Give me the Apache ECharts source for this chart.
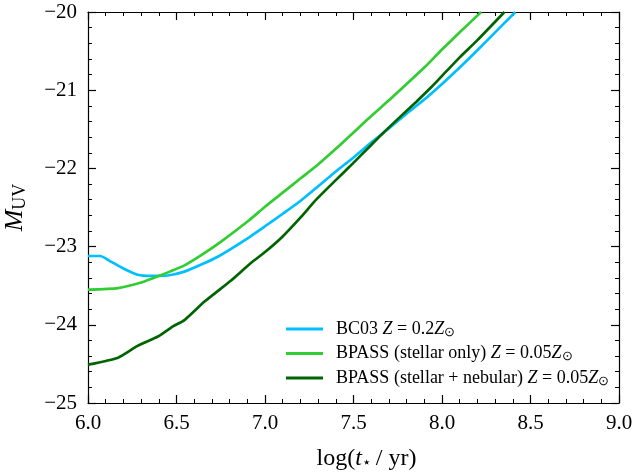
<!DOCTYPE html>
<html>
<head>
<meta charset="utf-8">
<script src="https://cdn.jsdelivr.net/npm/echarts@6/dist/echarts.min.js"></script>
<style>
  html, body { margin: 0; padding: 0; background: #fff; }
  #chart { width: 634px; height: 472px; }
</style>
</head>
<body>
<div id="chart"></div>
<script>
// values, [log(t/yr), M_UV]
const bc03 = [
  [6.0, -23.12], [6.07, -23.12], [6.12, -23.18], [6.2, -23.28], [6.28, -23.36],
  [6.36, -23.375], [6.45, -23.37], [6.545, -23.32], [6.64, -23.23], [6.733, -23.13],
  [6.884, -22.92], [7.0, -22.74], [7.1, -22.58], [7.198, -22.42], [7.289, -22.25],
  [7.4, -22.04], [7.5, -21.86], [7.6, -21.67], [7.7, -21.49], [7.8, -21.30],
  [7.9, -21.12], [8.0, -20.92], [8.1, -20.71], [8.2, -20.49], [8.3, -20.26], [8.415, -20.0]
];
const bpassStellar = [
  [6.0, -23.55], [6.17, -23.53], [6.30, -23.46], [6.395, -23.38], [6.545, -23.24],
  [6.64, -23.11], [6.75, -22.94], [6.912, -22.66], [7.0, -22.49], [7.1, -22.31],
  [7.2, -22.13], [7.3, -21.95], [7.4, -21.75], [7.5, -21.54], [7.6, -21.33],
  [7.7, -21.13], [7.8, -20.92], [7.9, -20.71], [8.0, -20.48], [8.1, -20.26], [8.221, -20.0]
];
const bpassNebular = [
  [6.0, -24.51], [6.17, -24.42], [6.28, -24.27], [6.395, -24.15], [6.48, -24.02],
  [6.545, -23.94], [6.66, -23.70], [6.81, -23.43], [6.92, -23.21], [7.0, -23.07],
  [7.1, -22.87], [7.2, -22.63], [7.289, -22.40], [7.4, -22.15], [7.477, -21.98],
  [7.6, -21.70], [7.666, -21.55], [7.75, -21.37], [7.854, -21.15], [7.94, -20.96],
  [8.024, -20.76], [8.1, -20.58], [8.2, -20.36], [8.353, -20.0]
];
const seriesNames = ['BC03', 'BPASS (stellar only)', 'BPASS (stellar + nebular)'];
const seriesZ = ['0.2', '0.05', '0.05'];
const colors = ['#00bfff', '#32cd32', '#006400'];

const font = 'Liberation Serif';
const minus = s => String(s).replace('-', '\u2212');

const tickStyle = () => ({
  axisLine: { show: true, onZero: false, lineStyle: { color: '#000', width: 1.2 } },
  axisTick: { show: true, inside: true, length: 8, lineStyle: { color: '#000', width: 1.2 } },
  minorTick: { show: true, splitNumber: 5, length: 4, lineStyle: { color: '#000', width: 1 } },
  splitLine: { show: false },
  axisLabel: { show: false }
});

const chart = echarts.init(document.getElementById('chart'));
const legendRich = {
  n: { fontFamily: font, fontSize: 18, color: '#000' },
  i: { fontFamily: font, fontSize: 18, fontStyle: 'italic', color: '#000' },
  s: { fontFamily: font, fontSize: 13, color: '#000', verticalAlign: 'bottom', padding: [7, 0, 0, 0] }
};

chart.setOption({
  animation: false,
  color: colors,
  grid: { left: 88, right: 15, top: 12, bottom: 69, containLabel: false, outerBoundsMode: 'none' },
  legend: {
    orient: 'vertical',
    left: 286,
    top: 319,
    padding: 0,
    itemWidth: 37,
    itemHeight: 3,
    itemGap: 4.5,
    icon: 'rect',
    data: seriesNames,
    formatter: name => {
      const k = seriesNames.indexOf(name);
      return '{n|' + name + ' }{i|Z}{n| = ' + seriesZ[k] + '}{i|Z}{s|\u2299}';
    },
    textStyle: { rich: legendRich, lineHeight: 20, padding: [0, 0, 0, 8] }
  },
  xAxis: [
    Object.assign({
      type: 'value', min: 6, max: 9, interval: 0.5, position: 'bottom',
      name: '{n|log(}{i|t}{s|\u22c6}{n|/ yr)}',
      nameLocation: 'middle', nameGap: 44,
      nameTextStyle: {
        padding: [0, 0, 0, 26],
        rich: {
          n: { fontFamily: font, fontSize: 24, color: '#000' },
          i: { fontFamily: font, fontSize: 24, fontStyle: 'italic', color: '#000' },
          s: { fontFamily: font, fontSize: 15, color: '#000', verticalAlign: 'bottom', padding: [9, 5, 0, 0] }
        }
      }
    }, tickStyle(), {
      axisLabel: { color: '#000', fontFamily: font, fontSize: 21, margin: 10, formatter: v => v.toFixed(1) }
    }),
    Object.assign({ type: 'value', min: 6, max: 9, interval: 0.5, position: 'top' }, tickStyle())
  ],
  yAxis: [
    Object.assign({
      type: 'value', min: -25, max: -20, interval: 1, position: 'left',
      name: '{i|M}{s|UV}',
      nameLocation: 'middle', nameGap: 59, nameRotate: 90,
      nameTextStyle: { rich: {
        i: { fontFamily: font, fontSize: 26, fontStyle: 'italic', color: '#000' },
        s: { fontFamily: font, fontSize: 18, color: '#000', verticalAlign: 'bottom', padding: [10, 0, 0, 0] }
      } }
    }, tickStyle(), {
      axisLabel: { color: '#000', fontFamily: font, fontSize: 21, margin: 11, formatter: v => minus(v.toFixed(0)) }
    }),
    Object.assign({ type: 'value', min: -25, max: -20, interval: 1, position: 'right' }, tickStyle())
  ],
  series: [bc03, bpassStellar, bpassNebular].map((d, k) => ({
    name: seriesNames[k],
    type: 'line',
    data: d,
    showSymbol: false,
    smooth: 0.2,
    clip: true,
    lineStyle: { width: 2.7, color: colors[k] },
    itemStyle: { color: colors[k] },
    z: k === 2 ? 3 : 2
  }))
});
</script>
</body>
</html>
